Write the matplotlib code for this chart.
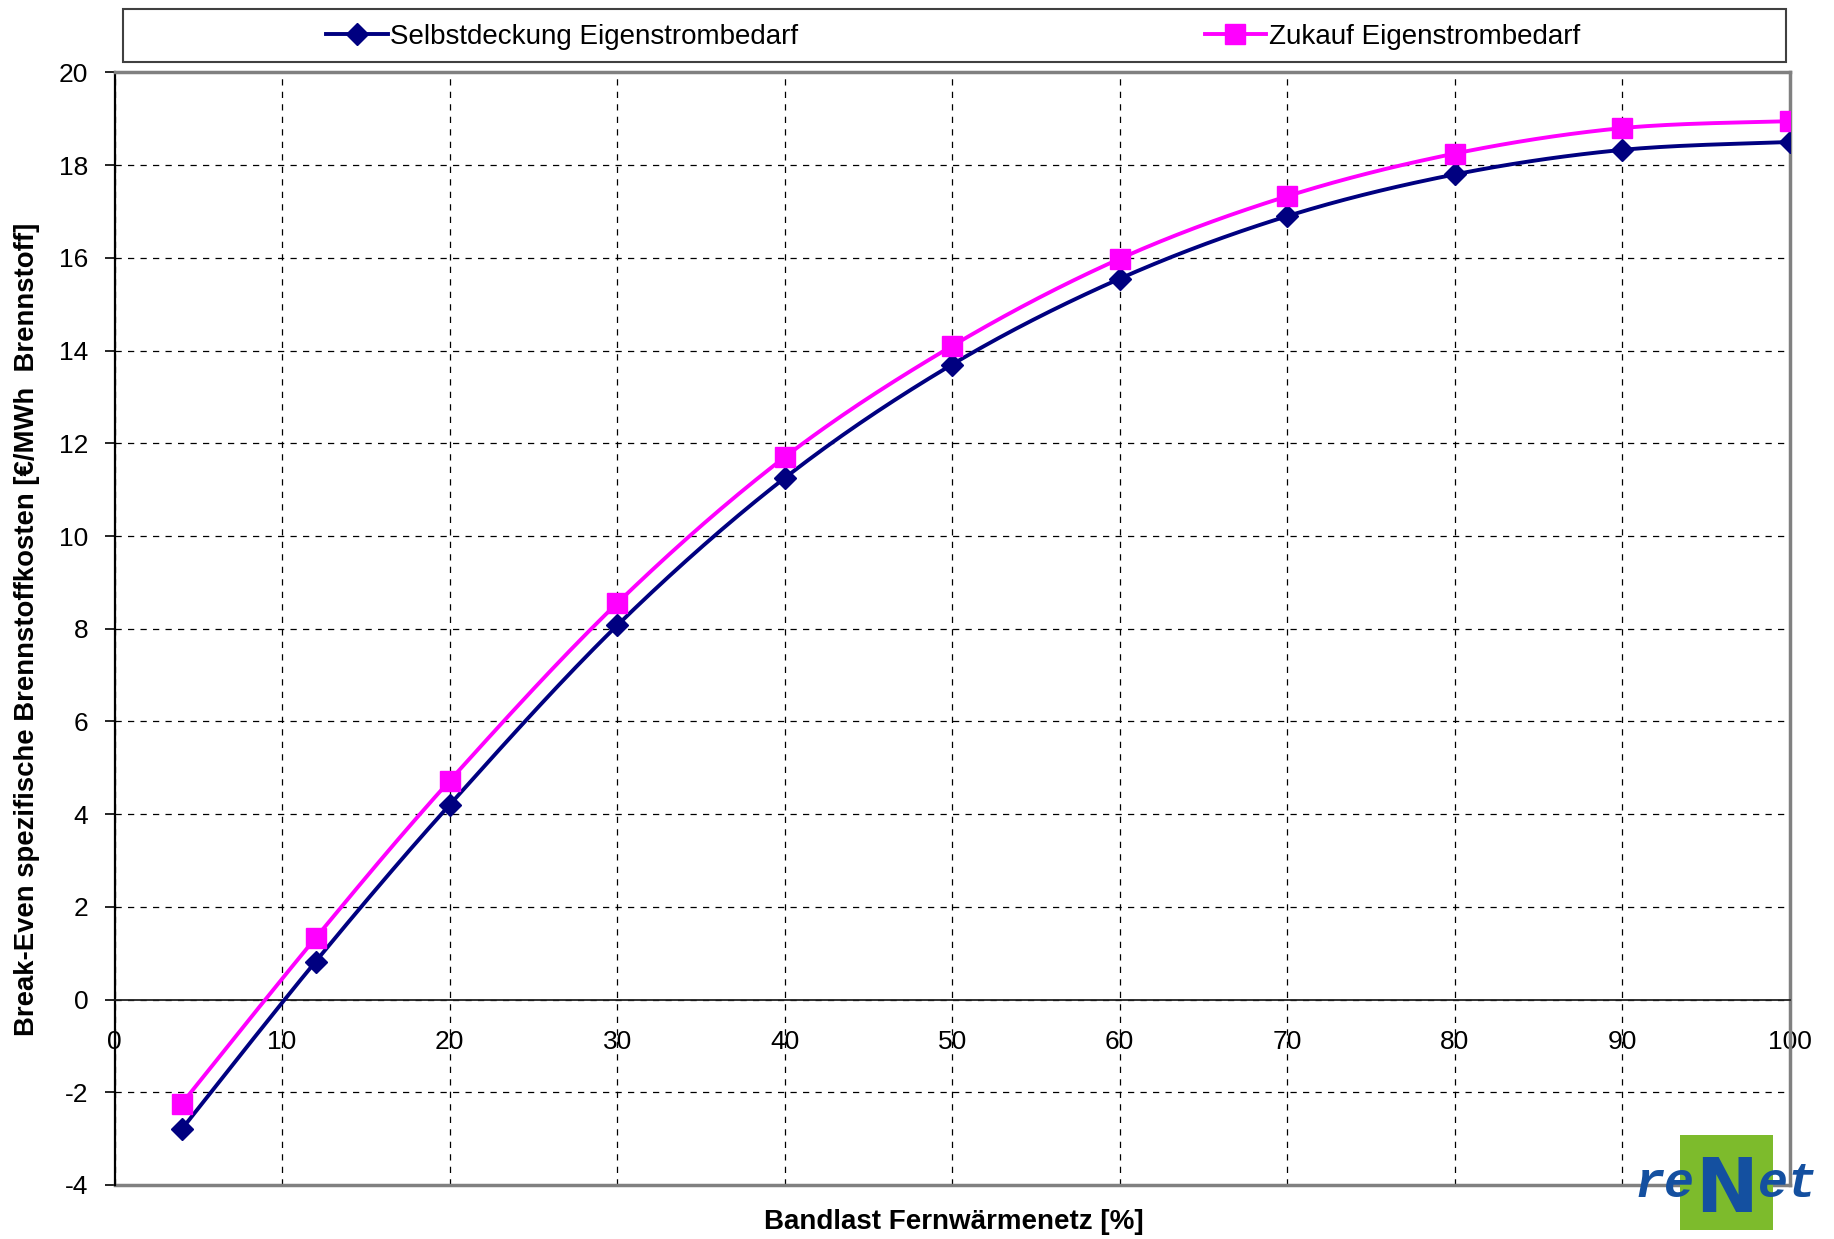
import numpy as np
import matplotlib.pyplot as plt
from matplotlib.patches import Rectangle

plt.rcParams['font.family'] = ['Liberation Sans', 'DejaVu Sans']
plt.rcParams['axes.unicode_minus'] = False

# data
bandlast = [4, 12, 20, 30, 40, 50, 60, 70, 80, 90, 100]
selbstdeckung = [-2.8, 0.82, 4.2, 8.07, 11.25, 13.7, 15.55, 16.9, 17.8, 18.33, 18.5]
zukauf = [-2.25, 1.33, 4.72, 8.55, 11.7, 14.1, 15.98, 17.33, 18.25, 18.8, 18.95]
label_selbst = "Selbstdeckung Eigenstrombedarf"
label_zukauf = "Zukauf Eigenstrombedarf"


def smooth(x, y, n=30):
    # Excel-like smoothed line: cubic Bezier with Catmull-Rom control points
    x = np.asarray(x, float)
    y = np.asarray(y, float)
    px = np.concatenate([[x[0]], x, [x[-1]]])
    py = np.concatenate([[y[0]], y, [y[-1]]])
    xs, ys = [], []
    t = np.linspace(0, 1, n)
    for i in range(1, len(px) - 2):
        p0 = np.array([px[i], py[i]])
        p3 = np.array([px[i + 1], py[i + 1]])
        c1 = p0 + (np.array([px[i + 1], py[i + 1]]) - np.array([px[i - 1], py[i - 1]])) / 6
        c2 = p3 - (np.array([px[i + 2], py[i + 2]]) - np.array([px[i], py[i]])) / 6
        b = ((1 - t) ** 3)[:, None] * p0 + (3 * (1 - t) ** 2 * t)[:, None] * c1 \
            + (3 * (1 - t) * t ** 2)[:, None] * c2 + (t ** 3)[:, None] * p3
        xs.extend(b[:, 0])
        ys.extend(b[:, 1])
    return xs, ys


fig = plt.figure(figsize=(18.34, 12.39), dpi=100)
ax = fig.add_axes([0.0625, 0.0436, 0.9133, 0.8979])

navy = '#000080'
magenta = '#FF00FF'

sx, sy = smooth(bandlast, selbstdeckung)
zx, zy = smooth(bandlast, zukauf)
ax.plot(sx, sy, color=navy, lw=2.8, zorder=3)
ax.plot(bandlast, selbstdeckung, ls='none', marker='D', ms=11, color=navy, zorder=4)
ax.plot(zx, zy, color=magenta, lw=2.8, zorder=3)
ax.plot(bandlast, zukauf, ls='none', marker='s', ms=14, color=magenta, zorder=4)

ax.set_xlim(0, 100)
ax.set_ylim(-4, 20)
ax.set_xticks(np.arange(0, 101, 10))
ax.set_yticks(np.arange(-4, 21, 2))
ax.grid(True, color='black', ls=(0, (5, 5)), lw=0.9)
ax.set_axisbelow(True)

ax.spines['bottom'].set_position(('data', 0))
ax.spines['bottom'].set_color('#202020')
ax.spines['bottom'].set_linewidth(1.3)
ax.spines['left'].set_color('black')
ax.spines['left'].set_linewidth(1.6)
ax.spines['top'].set_color('#808080')
ax.spines['right'].set_color('#808080')
ax.spines['top'].set_linewidth(2.5)
ax.spines['right'].set_linewidth(2.5)
ax.axhline(-4, color='#808080', lw=2.5, clip_on=False)
ax.tick_params(axis='both', labelsize=19, width=1.2, direction='out')
ax.tick_params(axis='x', length=0, pad=22)
ax.tick_params(axis='y', length=7, pad=12)

fig.text(0.52, 0.0135, "Bandlast Fernwärmenetz [%]", ha='center', va='center',
         fontsize=20, fontweight='bold')
fig.text(0.0145, 0.492, "Break-Even spezifische Brennstoffkosten [€/MWh  Brennstoff]",
         rotation=90, ha='center', va='center', fontsize=19.8, fontweight='bold')

# legend box
fig.patches.append(Rectangle((0.067, 0.950), 0.907, 0.0427, transform=fig.transFigure,
                             fill=False, edgecolor='#404040', lw=1.5))
h1, = ax.plot([], [], color=navy, lw=2.8, marker='D', ms=11)
h2, = ax.plot([], [], color=magenta, lw=2.8, marker='s', ms=14)
fig.legend([h1], [label_selbst], loc='center left', bbox_to_anchor=(0.178, 0.970),
           frameon=False, fontsize=20, handlelength=2.2, handletextpad=0.1,
           borderpad=0, borderaxespad=0)
fig.legend([h2], [label_zukauf], loc='center left', bbox_to_anchor=(0.657, 0.970),
           frameon=False, fontsize=20, handlelength=2.2, handletextpad=0.1,
           borderpad=0, borderaxespad=0)

# reNet logo, drawn in full-size pixel coordinates
lx0, lx1, ly0, ly1 = 1625, 1830, 1125, 1239
lax = fig.add_axes([lx0 / 1834, 1 - ly1 / 1239, (lx1 - lx0) / 1834, (ly1 - ly0) / 1239])
lax.set_xlim(lx0, lx1)
lax.set_ylim(ly1, ly0)
lax.axis('off')
lax.add_patch(Rectangle((1680, 1135), 93, 95, color='#7DBB2C', lw=0))
lax.text(1726, 1212, "N", ha='center', va='baseline', fontsize=54, fontweight='bold',
         color='#1450A0', family='DejaVu Sans')
lax.text(1694, 1197, "re", ha='right', va='baseline', fontsize=36, fontweight='bold',
         style='italic', color='#1450A0', family='Liberation Mono')
lax.text(1758, 1197, "et", ha='left', va='baseline', fontsize=36, fontweight='bold',
         style='italic', color='#1450A0', family='Liberation Mono')

fig.savefig('out.png', dpi=100)
